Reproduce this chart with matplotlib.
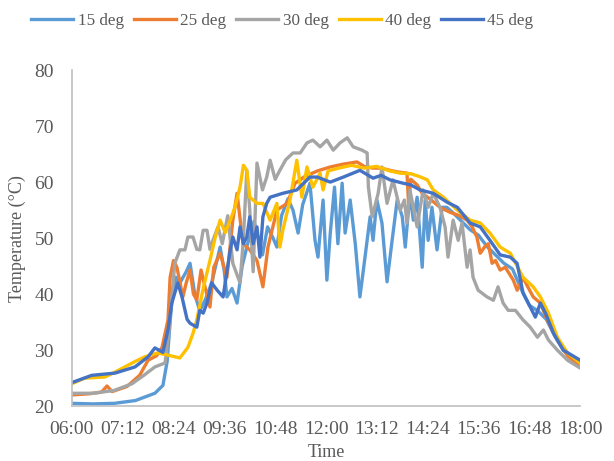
import matplotlib.pyplot as plt

plt.rcParams['font.family'] = ['Liberation Serif', 'DejaVu Serif']

# time in decimal hours, temperature in deg C
t15 = [6.0, 6.5, 7.0, 7.5, 7.96, 8.15, 8.25, 8.35, 8.45, 8.55, 8.7, 8.79, 8.9, 9.02, 9.15,
       9.3, 9.5, 9.6, 9.66, 9.78, 9.9, 10.02, 10.15, 10.3, 10.4, 10.5, 10.62, 10.75, 10.84,
       10.95, 11.1, 11.22, 11.34, 11.45, 11.62, 11.74, 11.81, 11.93, 12.02, 12.1, 12.2,
       12.28, 12.38, 12.45, 12.57, 12.69, 12.8, 12.92, 13.04, 13.11, 13.2, 13.32, 13.44,
       13.56, 13.68, 13.8, 13.87, 13.98, 14.06, 14.15, 14.27, 14.34, 14.41, 14.5, 14.62,
       14.74, 14.85, 15.0, 15.2, 15.4, 15.6, 15.8, 16.0, 16.2, 16.4, 16.6, 16.8, 17.0,
       17.2, 17.4, 17.6, 17.8, 18.0]
temp15 = [20.5, 20.4, 20.5, 21.0, 22.3, 23.7, 28, 38, 43, 42, 44, 45.5, 40, 37, 39,
          42, 48.4, 44, 39.5, 41, 38.4, 45, 49, 53, 50, 47, 52, 50, 48.4,
          54, 57, 55, 50.9, 56, 59.8, 49.6, 46.6, 56.8, 42.5, 50.9, 59.1,
          49, 59.8, 50.9, 56.8, 49, 39.5, 46.6, 53.8, 49.6, 56.8, 52.7, 42.2,
          49.6, 56.8, 53.8, 48.4, 58, 53.2, 57.3, 44.8, 56.8, 49.6, 55.5, 47.9,
          55.5, 55.5, 54.5, 53, 51.5, 50.5, 48.5, 47, 45.5, 44.5, 41, 38, 37,
          35.5, 32.5, 30, 28.5, 27.8]

t25 = [6.0, 6.4, 6.7, 6.83, 6.95, 7.3, 7.6, 7.8, 8.0, 8.13, 8.27, 8.32, 8.4, 8.48, 8.62,
       8.7, 8.79, 8.87, 8.95, 9.05, 9.12, 9.26, 9.35, 9.5, 9.66, 9.8, 9.9, 10.04, 10.2,
       10.37, 10.51, 10.63, 10.84, 11.08, 11.27, 11.5, 11.8, 12.1, 12.4, 12.73, 12.9, 13.1,
       13.3, 13.51, 13.7, 13.91, 13.95, 14.0, 14.15, 14.27, 14.45, 14.69, 14.93, 15.15,
       15.33, 15.45, 15.56, 15.64, 15.75, 15.83, 15.92, 16.0, 16.11, 16.23, 16.42, 16.51,
       16.65, 16.89, 17.06, 17.22, 17.46, 17.7, 18.0]
temp25 = [22.0, 22.2, 22.5, 23.6, 22.6, 23.5, 25.5, 28.2, 29, 30.5, 35.4, 43, 46, 44.8, 39.5,
          42, 44.3, 40, 39, 44.3, 42, 37.7, 44.8, 47.3, 43, 53.2, 58, 49, 47.9,
          46, 41.3, 48.4, 55, 56.2, 59.8, 61, 62, 62.7, 63.2, 63.6, 62.8, 62.5,
          62.5, 62.1, 61.8, 61.6, 56, 60.5, 59.5, 58, 57, 55.5, 54.6, 54,
          53.2, 52, 50.2, 47.3, 48.5, 49, 45.5, 46, 44.3, 44.8, 42.5, 40.7,
          42.9, 39.5, 38.4, 35.4, 31.8, 29, 27]

t30 = [6.0, 6.5, 7.0, 7.42, 7.7, 7.96, 8.2, 8.3, 8.43, 8.55, 8.67, 8.74, 8.86, 8.95, 9.02,
       9.1, 9.19, 9.26, 9.33, 9.45, 9.55, 9.68, 9.8, 9.97, 10.05, 10.13, 10.2, 10.28,
       10.37, 10.5, 10.6, 10.68, 10.8, 10.91, 11.05, 11.22, 11.39, 11.55, 11.69, 11.86,
       12.02, 12.17, 12.33, 12.5, 12.64, 12.85, 12.97, 13.0, 13.09, 13.23, 13.32, 13.44,
       13.58, 13.75, 13.85, 13.91, 13.98, 14.15, 14.29, 14.41, 14.53, 14.69, 14.81, 14.88,
       15.0, 15.12, 15.21, 15.33, 15.4, 15.47, 15.59, 15.8, 15.95, 16.06, 16.18, 16.3,
       16.47, 16.65, 16.82, 16.99, 17.13, 17.25, 17.46, 17.7, 18.0]
temp30 = [22.3, 22.3, 22.8, 24, 25.5, 27, 27.7, 34, 45.5, 47.9, 47.9, 50.2, 50.2, 48, 47.9,
          51.4, 51.4, 48, 49.6, 52, 49, 54, 45.5, 42, 50, 62.1, 55, 44,
          63.4, 58.6, 60.9, 63.9, 60.5, 62.1, 64, 65.2, 65.2, 67, 67.5, 66.3,
          67.5, 65.7, 67, 67.9, 66.3, 65.7, 65.2, 59.1, 53.8, 58, 62.7, 56.2,
          60.4, 55, 56.8, 52.7, 58.6, 52, 58.6, 55.5, 58, 55.5, 52, 46.6,
          53.2, 49.6, 52.7, 44.8, 47.9, 43, 40.7, 39.5, 38.9, 41.3, 38.4, 37.1,
          37.1, 35.4, 34.1, 32.3, 33.6, 31.8, 30, 28.2, 26.8]

t40 = [6.0, 6.3, 6.78, 7.0, 7.25, 7.5, 7.72, 8.03, 8.27, 8.55, 8.74, 8.86, 8.95, 9.1,
       9.26, 9.38, 9.5, 9.62, 9.74, 9.85, 9.97, 10.05, 10.13, 10.2, 10.37, 10.51, 10.68,
       10.84, 10.91, 10.98, 11.15, 11.31, 11.43, 11.55, 11.69, 11.86, 11.93, 12.05, 12.3,
       12.6, 12.9, 13.2, 13.5, 13.75, 14.0, 14.2, 14.39, 14.53, 14.77, 15.1, 15.4, 15.64,
       15.87, 16.11, 16.35, 16.65, 16.89, 17.06, 17.25, 17.46, 17.7, 18.0]
temp40 = [24, 25, 25.2, 26, 27, 28, 28.8, 29.5, 29.1, 28.6, 30.5, 33, 35.4, 41,
          46, 50, 53.2, 51, 53.2, 55.5, 59.1, 63, 62.1, 57.3, 56.2, 56.2, 53.2,
          56.2, 48.4, 51.4, 56.8, 63.9, 57.3, 62.7, 59.1, 61.6, 58.6, 62, 62.5,
          63, 62.5, 62.8, 62, 61.6, 61.5, 61, 60.4, 58.6, 57.3, 55, 53.2, 52.7,
          50.9, 48.4, 47.3, 43, 41.3, 39.5, 36.6, 32.3, 29.5, 27.7]

t45 = [6.0, 6.47, 7.02, 7.49, 7.8, 7.96, 8.15, 8.27, 8.36, 8.5, 8.6, 8.72, 8.79, 8.95,
       9.02, 9.1, 9.19, 9.3, 9.43, 9.57, 9.66, 9.74, 9.8, 9.9, 9.97, 10.05, 10.13, 10.2,
       10.28, 10.37, 10.44, 10.51, 10.6, 10.68, 10.98, 11.31, 11.62, 11.79, 12.1, 12.41,
       12.8, 13.11, 13.3, 13.51, 13.82, 14.0, 14.22, 14.53, 14.86, 15.1, 15.4, 15.64,
       15.87, 16.11, 16.35, 16.51, 16.65, 16.82, 16.94, 17.06, 17.18, 17.37, 17.6, 18.0]
temp45 = [24.2, 25.5, 25.9, 27, 28.8, 30.4, 29.6, 33.6, 38.4, 42, 39.5, 35.5, 34.8, 34.1,
          37.1, 36.6, 38.4, 42, 40.7, 39.5, 44, 47.9, 50.2, 47.9, 52, 49, 50.2, 53.8,
          49, 52, 46.6, 53.8, 56.2, 57.3, 58, 58.6, 60.9, 60.9, 60, 60.9,
          62.1, 60.7, 61.2, 60.4, 59.8, 59.5, 58.6, 58, 56.4, 55.5, 52.7, 52,
          49.6, 47, 46.6, 45.5, 40.2, 37.7, 35.9, 38.4, 36.6, 33, 30, 28.2]

tick_pos = [6.0, 7.2, 8.4, 9.6, 10.8, 12.0, 13.2, 14.4, 15.6, 16.8, 18.0]
tick_labels = ['06:00', '07:12', '08:24', '09:36', '10:48', '12:00',
               '13:12', '14:24', '15:36', '16:48', '18:00']

txt = '#595959'
fig = plt.figure(figsize=(6.14, 4.61), dpi=100)
ax = fig.add_axes([0.117, 0.119, 0.828, 0.729])

ax.plot(t15, temp15, color='#5B9BD5', lw=2.4, label='15 deg')
ax.plot(t25, temp25, color='#ED7D31', lw=2.4, label='25 deg')
ax.plot(t30, temp30, color='#A5A5A5', lw=2.4, label='30 deg')
ax.plot(t40, temp40, color='#FFC000', lw=2.4, label='40 deg')
ax.plot(t45, temp45, color='#4472C4', lw=2.4, label='45 deg')

ax.set_xlim(6, 18)
ax.set_ylim(20, 80)
ax.set_xticks(tick_pos)
ax.set_xticklabels(tick_labels)
ax.set_yticks(range(20, 81, 10))
ax.tick_params(length=0, labelsize=14, colors=txt)
ax.tick_params(axis='x', pad=11)
ax.tick_params(axis='y', pad=13)
ax.set_xlabel('Time', fontsize=13, color=txt, labelpad=4)
ax.set_ylabel('Temperature (°C)', fontsize=13, color=txt, labelpad=6)

for s in ['top', 'right']:
    ax.spines[s].set_visible(False)
for s in ['left', 'bottom']:
    ax.spines[s].set_color('#BFBFBF')
    ax.spines[s].set_linewidth(1.2)

fig.legend(loc='upper center', bbox_to_anchor=(0.46, 1.005), ncol=5, frameon=False,
           fontsize=12.3, handlelength=2.45, columnspacing=0.6, handletextpad=0.25,
           labelcolor=txt)

fig.savefig('out.png', dpi=100)
